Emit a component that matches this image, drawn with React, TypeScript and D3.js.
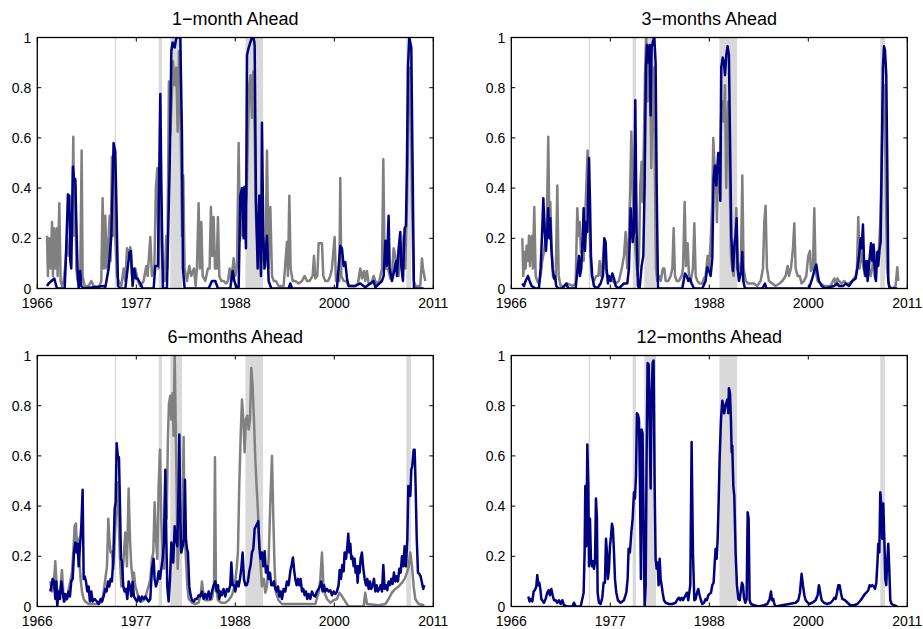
import React from "react";
import * as d3 from "d3";

type Pt = [number, number];

const xTickValues = [1966, 1977.25, 1988.5, 1999.75, 2011];
const xTickLabels = ["1966", "1977", "1988", "2000", "2011"];
const yTickValues = [0, 0.2, 0.4, 0.6, 0.8, 1];
const yTickLabels = ["0", "0.2", "0.4", "0.6", "0.8", "1"];

const shadeBands: Pt[] = [
  [1974.8, 1974.96],
  [1979.79, 1980.17],
  [1981.11, 1982.44],
  [1989.65, 1991.66],
  [2007.93, 2008.46],
];

const titles = ["1−month Ahead", "3−months Ahead", "6−months Ahead", "12−months Ahead"];

const p1Navy: Pt[] = [[1967.10,0.01],[1967.29,0.02],[1967.93,0.04],[1968.23,0],[1969.11,0],[1969.26,0.13],[1969.48,0.375],[1969.64,0.37],[1969.75,0.11],[1969.86,0.08],[1970.05,0.485],[1970.20,0.43],[1970.32,0.435],[1970.43,0.27],[1970.58,0.07],[1970.70,0],[1970.89,0.07],[1971.00,0.01],[1971.27,0],[1973.54,0.01],[1973.73,0.005],[1974.11,0.08],[1974.41,0.21],[1974.67,0.58],[1974.86,0.545],[1974.98,0.35],[1975.17,0.01],[1975.43,0],[1976.00,0],[1976.30,0.09],[1976.49,0.145],[1976.64,0.15],[1976.83,0.01],[1977.02,0.08],[1977.21,0.04],[1977.40,0.04],[1977.70,0.02],[1977.97,0],[1979.22,0],[1979.41,0.09],[1979.71,0.09],[1979.98,0.775],[1980.09,0.43],[1980.28,0],[1980.73,0],[1981.04,0.48],[1981.23,0.945],[1981.38,0.98],[1981.61,0.96],[1981.80,1],[1982.06,1],[1982.25,1],[1982.44,0.61],[1982.55,0.08],[1982.74,0],[1985.47,0],[1985.85,0.03],[1986.23,0.03],[1986.53,0],[1987.93,0],[1988.20,0.07],[1988.39,0.03],[1988.69,0],[1988.88,0],[1989.07,0.37],[1989.26,0.40],[1989.45,0.2],[1989.56,0.405],[1989.71,0.16],[1989.83,0.93],[1990.02,0.96],[1990.20,0.98],[1990.39,1],[1990.58,1],[1990.70,0.97],[1990.85,0.35],[1991.04,0.08],[1991.23,0.37],[1991.42,0.05],[1991.53,0.66],[1991.68,0.21],[1991.83,0.08],[1992.10,0.21],[1992.29,0.03],[1992.59,0],[1994.56,0],[1994.75,0.02],[1994.94,0],[2000.05,0],[2000.43,0.17],[2000.62,0.16],[2000.81,0.09],[2001.00,0.105],[2001.19,0.04],[2001.38,0.01],[2002.14,0.01],[2002.70,0.02],[2003.27,0.005],[2004.22,0.03],[2004.41,0.005],[2005.17,0.03],[2005.36,0.05],[2005.55,0.19],[2005.73,0.09],[2005.92,0.29],[2006.04,0.08],[2006.30,0.03],[2006.61,0.08],[2006.76,0.11],[2006.87,0.05],[2007.06,0.16],[2007.25,0.225],[2007.36,0.09],[2007.55,0.03],[2007.74,0.24],[2007.89,0.25],[2008.00,0.48],[2008.12,0.88],[2008.27,1],[2008.50,0.96],[2008.65,0.48],[2008.80,0],[2009.90,0]];

const p1Gray: Pt[] = [[1967.10,0.21],[1967.21,0.05],[1967.36,0.20],[1967.52,0.08],[1967.67,0.265],[1967.78,0.05],[1967.89,0.24],[1968.05,0.08],[1968.20,0.24],[1968.31,0.05],[1968.50,0.34],[1968.65,0.03],[1968.80,0.01],[1968.99,0.03],[1969.18,0.09],[1969.37,0.20],[1969.56,0.13],[1969.75,0.15],[1969.94,0.21],[1970.09,0.605],[1970.20,0.21],[1970.32,0.41],[1970.43,0.08],[1970.58,0.03],[1970.89,0.08],[1971.04,0.55],[1971.15,0.05],[1971.38,0.01],[1971.83,0.01],[1972.14,0.03],[1972.40,0.01],[1972.97,0],[1973.27,0.03],[1973.42,0.36],[1973.58,0.08],[1973.73,0.29],[1973.88,0.08],[1974.03,0.15],[1974.22,0.29],[1974.33,0.11],[1974.48,0.525],[1974.60,0.21],[1974.75,0.55],[1974.86,0.21],[1975.05,0.05],[1975.24,0.03],[1975.55,0.01],[1975.81,0.08],[1976.00,0.03],[1976.19,0.16],[1976.38,0.13],[1976.57,0.165],[1976.76,0.05],[1976.95,0.05],[1977.14,0.08],[1977.44,0.03],[1977.70,0.01],[1978.08,0.03],[1978.39,0.09],[1978.54,0.05],[1978.84,0.205],[1979.03,0.05],[1979.30,0.08],[1979.48,0.405],[1979.64,0.48],[1979.79,0.08],[1979.94,0.37],[1980.05,0.29],[1980.24,0.08],[1980.47,0.03],[1980.66,0.21],[1980.77,0.08],[1980.96,0.825],[1981.11,0.61],[1981.27,0.745],[1981.42,0.905],[1981.61,0.81],[1981.80,0.88],[1981.95,0.625],[1982.10,0.945],[1982.25,0.745],[1982.44,0.21],[1982.59,0.45],[1982.74,0.08],[1983.01,0.03],[1983.27,0.09],[1983.50,0.05],[1983.80,0.08],[1983.99,0.01],[1984.14,0.08],[1984.33,0.34],[1984.48,0.08],[1984.64,0.265],[1984.79,0.05],[1985.09,0.03],[1985.39,0.08],[1985.58,0.08],[1985.73,0.325],[1985.89,0.13],[1986.04,0.285],[1986.19,0.08],[1986.38,0.08],[1986.53,0.285],[1986.68,0.05],[1986.91,0.03],[1987.17,0.03],[1987.44,0.02],[1987.67,0.03],[1987.86,0.08],[1988.05,0.03],[1988.31,0.12],[1988.50,0.05],[1988.69,0.09],[1988.88,0.58],[1989.03,0.19],[1989.18,0.385],[1989.33,0.21],[1989.45,0.40],[1989.64,0.32],[1989.79,0.37],[1989.94,0.61],[1990.09,0.81],[1990.24,0.85],[1990.39,0.68],[1990.55,0.865],[1990.70,0.61],[1990.85,0.28],[1991.04,0.16],[1991.23,0.37],[1991.38,0.08],[1991.61,0.21],[1991.76,0.08],[1991.91,0.09],[1992.10,0.55],[1992.29,0.08],[1992.48,0.325],[1992.67,0.05],[1992.86,0.03],[1993.12,0.03],[1993.42,0.01],[1993.99,0.01],[1994.37,0.185],[1994.48,0.05],[1994.64,0.37],[1994.79,0.08],[1995.02,0.03],[1995.32,0.03],[1995.70,0.02],[1996.08,0.03],[1996.38,0.05],[1996.64,0.03],[1996.95,0.03],[1997.29,0.05],[1997.44,0.13],[1997.59,0.04],[1997.82,0.05],[1997.97,0.18],[1998.16,0.18],[1998.35,0.18],[1998.50,0.05],[1998.73,0.03],[1999.03,0.03],[1999.30,0.05],[1999.48,0.08],[1999.79,0.205],[1999.94,0.03],[2000.17,0.03],[2000.32,0.03],[2000.43,0.44],[2000.55,0.05],[2000.81,0.03],[2001.08,0.03],[2001.38,0.01],[2001.76,0.01],[2002.14,0.01],[2002.44,0.02],[2002.70,0.08],[2002.89,0.04],[2003.12,0.07],[2003.27,0.03],[2003.46,0.07],[2003.65,0.02],[2003.95,0.02],[2004.22,0.05],[2004.41,0.03],[2004.60,0.02],[2004.86,0.03],[2005.17,0.08],[2005.32,0.515],[2005.47,0.08],[2005.66,0.08],[2005.85,0.08],[2006.11,0.04],[2006.30,0.05],[2006.49,0.16],[2006.68,0.13],[2006.87,0.08],[2007.06,0.05],[2007.25,0.16],[2007.44,0.08],[2007.63,0.21],[2007.82,0.08],[2008.01,0.35],[2008.20,0.74],[2008.39,0.88],[2008.58,0.35],[2008.77,0.03],[2008.95,0.01],[2009.26,0.01],[2009.52,0.01],[2009.71,0.12],[2009.83,0.08],[2009.98,0.05],[2010.09,0.03]];

const p2Navy: Pt[] = [[1967.25,0.02],[1967.44,0.01],[1967.63,0.03],[1967.89,0.05],[1968.08,0.03],[1968.31,0.01],[1968.77,0],[1969.14,0],[1969.33,0.08],[1969.52,0.24],[1969.64,0.36],[1969.79,0.23],[1969.94,0.15],[1970.09,0.24],[1970.20,0.32],[1970.32,0.2],[1970.43,0.28],[1970.55,0.16],[1970.70,0.08],[1970.85,0.04],[1970.96,0.05],[1971.11,0.01],[1971.34,0],[1971.80,0],[1972.25,0.02],[1972.48,0],[1973.31,0],[1973.54,0.08],[1973.69,0.13],[1973.80,0.05],[1973.95,0.08],[1974.11,0.2],[1974.22,0.32],[1974.37,0.15],[1974.52,0.265],[1974.64,0.225],[1974.75,0.405],[1974.83,0.52],[1974.94,0.35],[1975.05,0.13],[1975.20,0.05],[1975.39,0.01],[1975.77,0],[1976.15,0.02],[1976.42,0.05],[1976.57,0.2],[1976.72,0.185],[1976.83,0.08],[1976.98,0.02],[1977.10,0.05],[1977.29,0.03],[1977.48,0.06],[1977.67,0.04],[1977.86,0.01],[1978.23,0],[1978.80,0.02],[1979.18,0.02],[1979.37,0.08],[1979.56,0.32],[1979.67,0.265],[1979.79,0.185],[1979.94,0.225],[1980.09,0.75],[1980.24,0.225],[1980.39,0.01],[1980.58,0],[1980.81,0.09],[1981.00,0.13],[1981.15,0.41],[1981.30,0.88],[1981.42,0.97],[1981.57,0.90],[1981.72,0.97],[1981.83,0.69],[1981.95,0.96],[1982.10,0.985],[1982.25,1],[1982.40,0.90],[1982.52,0.41],[1982.67,0],[1982.97,0],[1985.43,0],[1985.73,0.06],[1985.92,0.05],[1986.11,0.03],[1986.30,0.04],[1986.49,0.02],[1986.76,0],[1987.70,0],[1988.08,0.03],[1988.27,0.085],[1988.46,0.07],[1988.65,0.05],[1988.84,0.12],[1988.99,0.44],[1989.14,0.49],[1989.30,0.41],[1989.41,0.48],[1989.52,0.54],[1989.67,0.48],[1989.75,0.35],[1989.86,0.88],[1990.02,0.92],[1990.17,0.90],[1990.28,0.85],[1990.43,0.93],[1990.58,0.965],[1990.73,0.93],[1990.85,0.61],[1991.00,0.21],[1991.19,0.07],[1991.38,0.185],[1991.49,0.21],[1991.61,0.28],[1991.72,0.08],[1991.87,0.03],[1992.14,0.07],[1992.25,0.145],[1992.36,0.03],[1992.55,0],[1994.52,0],[1994.83,0.02],[1994.98,0],[1999.83,0],[2000.20,0.04],[2000.51,0.08],[2000.66,0.095],[2000.81,0.06],[2000.96,0.03],[2001.27,0.01],[2001.72,0],[2002.67,0.01],[2003.05,0.02],[2003.23,0.01],[2003.73,0.01],[2003.99,0.02],[2004.37,0.01],[2004.56,0.02],[2004.75,0.03],[2005.13,0.04],[2005.32,0.08],[2005.51,0.13],[2005.70,0.2],[2005.81,0.16],[2005.96,0.255],[2006.11,0.08],[2006.27,0.05],[2006.38,0.11],[2006.49,0.03],[2006.64,0.09],[2006.87,0.18],[2007.02,0.11],[2007.17,0.175],[2007.32,0.05],[2007.44,0.03],[2007.59,0.145],[2007.70,0.09],[2007.86,0.16],[2007.97,0.185],[2008.08,0.48],[2008.23,0.88],[2008.35,0.965],[2008.46,0.95],[2008.61,0.85],[2008.73,0.48],[2008.84,0.03],[2008.99,0],[2009.86,0]];

const p2Gray: Pt[] = [[1967.25,0.2],[1967.36,0.05],[1967.52,0.145],[1967.63,0.08],[1967.74,0.17],[1967.89,0.11],[1968.01,0.21],[1968.12,0.09],[1968.23,0.2],[1968.35,0.21],[1968.46,0.08],[1968.61,0.325],[1968.77,0.05],[1968.95,0.03],[1969.14,0.02],[1969.33,0.05],[1969.52,0.11],[1969.71,0.145],[1969.90,0.21],[1970.05,0.29],[1970.20,0.605],[1970.32,0.265],[1970.43,0.345],[1970.58,0.17],[1970.73,0.05],[1971.04,0.03],[1971.23,0.41],[1971.38,0.05],[1971.61,0.01],[1971.98,0.01],[1972.36,0.02],[1972.93,0.01],[1973.31,0.02],[1973.50,0.32],[1973.65,0.21],[1973.77,0.265],[1973.92,0.145],[1974.07,0.17],[1974.22,0.11],[1974.37,0.265],[1974.52,0.405],[1974.67,0.55],[1974.83,0.345],[1974.98,0.145],[1975.13,0.05],[1975.39,0.03],[1975.66,0.05],[1975.89,0.05],[1976.04,0.11],[1976.19,0.05],[1976.34,0.08],[1976.57,0.185],[1976.72,0.08],[1976.91,0.05],[1977.10,0.05],[1977.48,0.03],[1977.86,0.02],[1978.23,0.03],[1978.61,0.09],[1978.80,0.13],[1978.99,0.225],[1979.18,0.08],[1979.37,0.21],[1979.52,0.41],[1979.64,0.625],[1979.75,0.48],[1979.90,0.21],[1980.05,0.185],[1980.20,0.11],[1980.36,0.05],[1980.51,0.13],[1980.66,0.41],[1980.81,0.505],[1980.92,0.345],[1981.08,0.61],[1981.19,0.85],[1981.34,1.0],[1981.49,0.745],[1981.64,0.93],[1981.80,0.81],[1981.91,0.48],[1982.02,0.745],[1982.17,0.88],[1982.29,0.545],[1982.44,0.08],[1982.59,0.03],[1982.78,0.05],[1982.97,0.03],[1983.23,0.08],[1983.39,0.08],[1983.54,0.03],[1983.84,0.03],[1984.11,0.05],[1984.30,0.08],[1984.45,0.24],[1984.60,0.05],[1984.79,0.03],[1985.05,0.03],[1985.36,0.05],[1985.51,0.08],[1985.70,0.345],[1985.85,0.09],[1986.04,0.18],[1986.19,0.05],[1986.38,0.03],[1986.64,0.08],[1986.80,0.26],[1986.95,0.05],[1987.14,0.03],[1987.40,0.02],[1987.70,0.02],[1987.89,0.04],[1988.08,0.05],[1988.31,0.13],[1988.46,0.08],[1988.65,0.185],[1988.84,0.345],[1988.95,0.6],[1989.11,0.48],[1989.26,0.44],[1989.37,0.265],[1989.52,0.53],[1989.67,0.385],[1989.83,0.68],[1989.98,0.745],[1990.13,0.665],[1990.28,0.81],[1990.43,0.40],[1990.55,0.64],[1990.66,0.745],[1990.81,0.45],[1990.96,0.13],[1991.11,0.08],[1991.27,0.05],[1991.42,0.185],[1991.57,0.32],[1991.72,0.08],[1991.87,0.05],[1992.10,0.11],[1992.25,0.45],[1992.40,0.08],[1992.63,0.03],[1992.93,0.02],[1993.23,0.02],[1993.58,0.02],[1993.95,0.01],[1994.33,0.03],[1994.60,0.08],[1994.75,0.265],[1994.90,0.33],[1995.05,0.08],[1995.28,0.03],[1995.66,0.02],[1996.04,0.01],[1996.49,0.02],[1996.80,0.03],[1997.17,0.05],[1997.40,0.09],[1997.55,0.05],[1997.78,0.08],[1998.01,0.16],[1998.16,0.26],[1998.31,0.08],[1998.54,0.05],[1998.77,0.05],[1998.99,0.02],[1999.26,0.03],[1999.52,0.05],[1999.75,0.13],[1999.94,0.15],[2000.05,0.07],[2000.28,0.08],[2000.43,0.32],[2000.58,0.07],[2000.81,0.03],[2001.15,0.02],[2001.53,0.01],[2001.91,0.01],[2002.29,0.01],[2002.55,0.03],[2002.70,0.04],[2002.86,0.02],[2003.05,0.04],[2003.23,0.03],[2003.54,0.02],[2003.80,0.03],[2004.07,0.02],[2004.37,0.02],[2004.75,0.03],[2005.13,0.05],[2005.28,0.08],[2005.43,0.285],[2005.58,0.08],[2005.73,0.16],[2005.89,0.11],[2006.04,0.08],[2006.19,0.05],[2006.34,0.05],[2006.49,0.11],[2006.64,0.09],[2006.83,0.05],[2007.02,0.08],[2007.21,0.16],[2007.40,0.08],[2007.59,0.13],[2007.78,0.16],[2007.93,0.265],[2008.08,0.48],[2008.23,0.745],[2008.39,0.81],[2008.54,0.48],[2008.69,0.08],[2008.92,0.01],[2009.30,0],[2009.67,0.01],[2009.86,0.085],[2009.98,0.03]];

const p3Navy: Pt[] = [[1967.48,0.06],[1967.59,0.08],[1967.74,0.11],[1967.89,0.10],[1968.05,0.03],[1968.16,0.10],[1968.27,0.0],[1968.42,0.06],[1968.58,0.03],[1968.73,0.10],[1968.88,0.06],[1969.03,0.02],[1969.18,0.05],[1969.37,0.03],[1969.56,0.06],[1969.71,0.04],[1969.86,0.10],[1970.02,0.11],[1970.17,0.215],[1970.32,0.255],[1970.47,0.215],[1970.58,0.25],[1970.70,0.16],[1970.85,0.24],[1971.00,0.32],[1971.15,0.465],[1971.27,0.11],[1971.38,0.12],[1971.53,0.10],[1971.68,0.06],[1971.83,0.08],[1971.98,0.02],[1972.14,0.06],[1972.29,0.02],[1972.52,0.03],[1972.78,0.02],[1972.97,0.01],[1973.20,0.03],[1973.35,0.02],[1973.54,0.04],[1973.73,0.07],[1973.88,0.06],[1974.03,0.10],[1974.18,0.08],[1974.33,0.11],[1974.48,0.10],[1974.64,0.19],[1974.79,0.39],[1974.90,0.415],[1975.02,0.65],[1975.17,0.59],[1975.28,0.595],[1975.39,0.415],[1975.51,0.19],[1975.62,0.18],[1975.77,0.08],[1975.92,0.06],[1976.08,0.07],[1976.23,0.03],[1976.38,0.10],[1976.53,0.08],[1976.68,0.04],[1976.83,0.10],[1976.98,0.04],[1977.14,0.03],[1977.33,0.02],[1977.52,0.04],[1977.70,0.02],[1977.89,0.04],[1978.08,0.03],[1978.27,0.04],[1978.46,0.03],[1978.65,0.02],[1978.84,0.03],[1979.03,0.15],[1979.22,0.19],[1979.33,0.11],[1979.48,0.08],[1979.64,0.10],[1979.79,0.14],[1979.94,0.11],[1980.09,0.15],[1980.24,0.19],[1980.39,0.255],[1980.55,0.545],[1980.66,0.27],[1980.77,0.08],[1980.92,0.02],[1981.08,0.11],[1981.23,0.255],[1981.34,0.19],[1981.45,0.175],[1981.61,0.32],[1981.76,0.27],[1981.91,0.24],[1982.06,0.48],[1982.14,0.685],[1982.25,0.35],[1982.36,0.215],[1982.52,0.24],[1982.67,0.27],[1982.78,0.505],[1982.89,0.27],[1983.01,0.23],[1983.12,0.215],[1983.27,0.08],[1983.42,0.045],[1983.58,0.025],[1983.77,0.02],[1983.95,0.03],[1984.14,0.03],[1984.33,0.045],[1984.52,0.04],[1984.71,0.06],[1984.90,0.03],[1985.09,0.05],[1985.28,0.03],[1985.47,0.06],[1985.66,0.03],[1985.85,0.06],[1986.04,0.085],[1986.23,0.10],[1986.38,0.06],[1986.53,0.085],[1986.68,0.03],[1986.83,0.06],[1986.98,0.045],[1987.17,0.07],[1987.36,0.04],[1987.55,0.07],[1987.74,0.06],[1987.93,0.085],[1988.05,0.175],[1988.20,0.085],[1988.35,0.085],[1988.50,0.06],[1988.69,0.10],[1988.88,0.08],[1989.03,0.11],[1989.18,0.15],[1989.33,0.215],[1989.48,0.11],[1989.64,0.085],[1989.79,0.085],[1989.94,0.10],[1990.09,0.14],[1990.24,0.165],[1990.39,0.215],[1990.55,0.23],[1990.70,0.31],[1990.85,0.32],[1991.00,0.33],[1991.11,0.34],[1991.23,0.24],[1991.38,0.19],[1991.53,0.215],[1991.68,0.16],[1991.83,0.22],[1991.98,0.135],[1992.14,0.16],[1992.29,0.11],[1992.44,0.135],[1992.59,0.085],[1992.74,0.085],[1992.89,0.10],[1993.05,0.07],[1993.20,0.06],[1993.35,0.08],[1993.50,0.04],[1993.65,0.06],[1993.80,0.03],[1993.99,0.07],[1994.18,0.06],[1994.37,0.10],[1994.56,0.085],[1994.75,0.14],[1994.90,0.165],[1995.05,0.195],[1995.20,0.14],[1995.32,0.11],[1995.47,0.085],[1995.62,0.11],[1995.77,0.085],[1995.92,0.11],[1996.08,0.06],[1996.23,0.07],[1996.38,0.045],[1996.53,0.06],[1996.68,0.03],[1996.83,0.05],[1997.02,0.03],[1997.21,0.06],[1997.40,0.045],[1997.59,0.04],[1997.78,0.06],[1997.97,0.07],[1998.16,0.085],[1998.27,0.10],[1998.42,0.06],[1998.58,0.085],[1998.73,0.06],[1998.92,0.07],[1999.11,0.06],[1999.30,0.065],[1999.48,0.045],[1999.67,0.06],[1999.86,0.05],[2000.05,0.06],[2000.24,0.085],[2000.36,0.145],[2000.51,0.11],[2000.66,0.165],[2000.81,0.14],[2000.92,0.215],[2001.08,0.19],[2001.23,0.24],[2001.34,0.29],[2001.45,0.215],[2001.57,0.25],[2001.68,0.19],[2001.80,0.20],[2001.95,0.16],[2002.06,0.19],[2002.17,0.135],[2002.29,0.16],[2002.40,0.095],[2002.52,0.16],[2002.63,0.135],[2002.74,0.19],[2002.89,0.215],[2003.05,0.15],[2003.20,0.11],[2003.35,0.085],[2003.50,0.11],[2003.65,0.07],[2003.80,0.10],[2003.95,0.07],[2004.11,0.085],[2004.26,0.11],[2004.41,0.06],[2004.56,0.085],[2004.71,0.06],[2004.86,0.07],[2005.02,0.085],[2005.17,0.06],[2005.32,0.165],[2005.47,0.07],[2005.62,0.085],[2005.77,0.065],[2005.92,0.10],[2006.08,0.085],[2006.23,0.11],[2006.38,0.09],[2006.53,0.135],[2006.68,0.10],[2006.83,0.12],[2006.98,0.10],[2007.14,0.15],[2007.29,0.135],[2007.44,0.20],[2007.59,0.16],[2007.74,0.24],[2007.89,0.16],[2008.05,0.27],[2008.16,0.48],[2008.27,0.475],[2008.39,0.44],[2008.50,0.545],[2008.61,0.56],[2008.77,0.625],[2008.88,0.625],[2008.99,0.48],[2009.11,0.28],[2009.26,0.135],[2009.41,0.13],[2009.56,0.12],[2009.71,0.095],[2009.86,0.07],[2009.98,0.085]];

const p3Gray: Pt[] = [[1967.48,0.10],[1967.67,0.06],[1967.86,0.08],[1968.05,0.18],[1968.20,0.08],[1968.35,0.03],[1968.50,0.06],[1968.65,0.08],[1968.80,0.145],[1968.95,0.06],[1969.11,0.02],[1969.37,0.03],[1969.56,0.07],[1969.75,0.10],[1969.94,0.135],[1970.09,0.215],[1970.24,0.32],[1970.39,0.33],[1970.51,0.215],[1970.62,0.27],[1970.77,0.19],[1970.92,0.11],[1971.08,0.06],[1971.27,0.03],[1971.45,0.02],[1971.83,0.01],[1972.21,0.01],[1972.97,0.01],[1973.35,0.02],[1973.54,0.06],[1973.73,0.11],[1973.92,0.16],[1974.07,0.35],[1974.18,0.27],[1974.33,0.215],[1974.48,0.22],[1974.64,0.15],[1974.79,0.255],[1974.94,0.375],[1975.09,0.495],[1975.24,0.35],[1975.39,0.19],[1975.55,0.08],[1975.70,0.135],[1975.85,0.215],[1976.00,0.295],[1976.19,0.16],[1976.38,0.47],[1976.53,0.27],[1976.68,0.16],[1976.83,0.11],[1976.98,0.135],[1977.14,0.08],[1977.33,0.06],[1977.52,0.03],[1977.89,0.02],[1978.27,0.03],[1978.46,0.06],[1978.65,0.08],[1978.84,0.11],[1979.03,0.19],[1979.18,0.215],[1979.33,0.415],[1979.48,0.27],[1979.64,0.19],[1979.79,0.48],[1979.94,0.625],[1980.09,0.35],[1980.24,0.215],[1980.39,0.15],[1980.55,0.505],[1980.70,0.35],[1980.85,0.68],[1980.96,0.81],[1981.11,0.84],[1981.23,0.745],[1981.38,0.85],[1981.49,0.68],[1981.61,1.0],[1981.72,0.745],[1981.83,0.48],[1981.95,0.15],[1982.06,0.24],[1982.21,0.415],[1982.36,0.215],[1982.48,0.28],[1982.63,0.675],[1982.74,0.295],[1982.89,0.19],[1983.05,0.08],[1983.20,0.03],[1983.58,0.015],[1983.95,0.01],[1984.33,0.015],[1984.60,0.055],[1984.71,0.10],[1984.86,0.055],[1985.09,0.025],[1985.47,0.025],[1985.85,0.03],[1986.08,0.08],[1986.19,0.595],[1986.30,0.08],[1986.53,0.025],[1986.91,0.015],[1987.36,0.015],[1987.74,0.025],[1988.12,0.045],[1988.42,0.08],[1988.65,0.15],[1988.80,0.215],[1988.95,0.48],[1989.11,0.68],[1989.26,0.825],[1989.41,0.745],[1989.56,0.615],[1989.71,0.745],[1989.86,0.76],[1990.02,0.705],[1990.17,0.745],[1990.32,0.95],[1990.47,0.88],[1990.62,0.745],[1990.77,0.59],[1990.92,0.48],[1991.08,0.375],[1991.23,0.24],[1991.38,0.16],[1991.53,0.08],[1991.76,0.11],[1991.91,0.055],[1992.10,0.08],[1992.29,0.19],[1992.48,0.415],[1992.67,0.6],[1992.82,0.35],[1992.97,0.15],[1993.12,0.055],[1993.42,0.025],[1993.80,0.01],[1996.08,0.01],[1997.59,0.01],[1997.97,0.055],[1998.16,0.11],[1998.35,0.215],[1998.50,0.095],[1998.65,0.055],[1998.92,0.03],[1999.30,0.015],[1999.67,0.025],[2000.05,0.03],[2000.32,0.055],[2000.55,0.045],[2000.81,0.03],[2001.08,0.015],[2001.38,0],[2003.08,0],[2003.27,0.055],[2003.46,0.01],[2004.79,0.005],[2005.55,0.01],[2005.92,0.03],[2006.30,0.055],[2006.68,0.07],[2007.06,0.08],[2007.44,0.095],[2007.74,0.11],[2008.01,0.135],[2008.20,0.16],[2008.39,0.215],[2008.58,0.16],[2008.77,0.08],[2008.95,0.03],[2009.33,0.01],[2009.98,0.005]];

const p4Navy: Pt[] = [[1967.93,0.04],[1968.08,0.02],[1968.23,0.03],[1968.39,0.02],[1968.54,0.06],[1968.69,0.065],[1968.84,0.08],[1968.95,0.125],[1969.07,0.085],[1969.18,0.095],[1969.30,0.07],[1969.41,0.03],[1969.52,0.025],[1969.71,0.015],[1969.90,0.03],[1970.09,0.055],[1970.24,0.065],[1970.39,0.045],[1970.55,0.07],[1970.70,0.045],[1970.85,0.025],[1971.04,0.025],[1971.23,0.015],[1971.42,0.025],[1971.61,0.01],[1971.80,0.025],[1971.98,0.005],[1972.36,0],[1972.93,0],[1973.12,0.015],[1973.31,0],[1973.88,0],[1974.07,0.03],[1974.22,0.055],[1974.33,0.215],[1974.41,0.48],[1974.52,0.24],[1974.64,0.645],[1974.75,0.48],[1974.83,0.16],[1974.94,0.35],[1975.05,0.19],[1975.17,0.16],[1975.28,0.18],[1975.39,0.15],[1975.51,0.175],[1975.62,0.43],[1975.73,0.35],[1975.81,0.055],[1975.96,0.015],[1976.15,0.01],[1976.34,0.035],[1976.49,0.095],[1976.64,0.095],[1976.76,0.27],[1976.87,0.215],[1976.98,0.11],[1977.10,0.15],[1977.21,0.24],[1977.33,0.28],[1977.44,0.33],[1977.55,0.31],[1977.67,0.215],[1977.78,0.11],[1977.93,0.055],[1978.12,0.025],[1978.42,0.015],[1978.80,0.025],[1979.07,0.055],[1979.22,0.11],[1979.33,0.23],[1979.48,0.215],[1979.64,0.295],[1979.79,0.35],[1979.94,0.455],[1980.05,0.43],[1980.17,0.52],[1980.28,0.77],[1980.39,0.765],[1980.51,0.745],[1980.62,0.48],[1980.73,0.11],[1980.81,0.705],[1980.92,0.69],[1981.04,0.31],[1981.15,0],[1981.27,0.085],[1981.38,0.615],[1981.49,0.97],[1981.61,0.965],[1981.72,0.745],[1981.83,0.47],[1981.95,0.85],[1982.06,0.97],[1982.17,0.98],[1982.29,0.48],[1982.40,0.19],[1982.52,0.15],[1982.63,0.175],[1982.74,0.085],[1982.86,0.19],[1982.97,0.11],[1983.08,0.085],[1983.20,0.055],[1983.35,0.025],[1983.54,0.015],[1983.92,0.01],[1984.30,0.01],[1984.67,0.015],[1984.90,0.03],[1985.05,0.035],[1985.20,0.025],[1985.36,0.035],[1985.51,0.025],[1985.66,0.035],[1985.81,0.045],[1985.96,0.055],[1986.11,0.025],[1986.34,0.085],[1986.49,0.655],[1986.64,0.215],[1986.80,0.025],[1986.95,0.03],[1987.10,0.055],[1987.25,0.07],[1987.40,0.045],[1987.55,0.025],[1987.70,0.01],[1987.89,0.015],[1988.08,0.03],[1988.23,0.025],[1988.39,0.045],[1988.54,0.05],[1988.69,0.055],[1988.84,0.085],[1988.99,0.095],[1989.14,0.19],[1989.22,0.23],[1989.33,0.19],[1989.45,0.27],[1989.56,0.415],[1989.67,0.585],[1989.83,0.745],[1989.98,0.82],[1990.09,0.80],[1990.20,0.77],[1990.32,0.80],[1990.43,0.81],[1990.55,0.825],[1990.66,0.77],[1990.73,0.87],[1990.85,0.85],[1990.96,0.745],[1991.04,0.615],[1991.11,0.64],[1991.23,0.48],[1991.34,0.44],[1991.49,0.215],[1991.64,0.085],[1991.80,0.03],[1991.95,0.025],[1992.06,0.055],[1992.21,0.095],[1992.33,0.085],[1992.44,0.035],[1992.59,0.015],[1992.74,0.03],[1992.86,0.375],[1992.97,0.35],[1993.08,0.025],[1993.23,0.01],[1993.58,0.005],[1994.14,0],[1994.71,0.005],[1995.09,0.01],[1995.36,0.03],[1995.51,0.06],[1995.62,0.025],[1995.77,0.03],[1995.89,0.01],[1996.04,0],[1998.31,0.015],[1998.61,0.025],[1998.80,0.055],[1998.99,0.13],[1999.14,0.085],[1999.30,0.045],[1999.45,0.025],[1999.83,0.01],[2000.20,0.015],[2000.58,0.025],[2000.81,0.045],[2000.96,0.085],[2001.11,0.055],[2001.27,0.025],[2001.53,0.015],[2001.91,0.01],[2002.29,0.015],[2002.55,0.025],[2002.70,0.035],[2002.86,0.03],[2003.01,0.055],[2003.16,0.085],[2003.31,0.085],[2003.46,0.055],[2003.61,0.03],[2003.92,0.025],[2004.22,0.015],[2004.52,0.005],[2004.94,0.005],[2005.32,0.01],[2005.70,0.025],[2006.08,0.045],[2006.34,0.055],[2006.57,0.065],[2006.72,0.085],[2006.87,0.08],[2007.02,0.085],[2007.17,0.08],[2007.33,0.07],[2007.48,0.095],[2007.63,0.19],[2007.70,0.25],[2007.82,0.215],[2007.93,0.455],[2008.05,0.40],[2008.16,0.27],[2008.27,0.41],[2008.39,0.27],[2008.50,0.11],[2008.61,0.085],[2008.73,0.19],[2008.84,0.25],[2008.95,0.15],[2009.07,0.025],[2009.22,0.01],[2009.48,0.005],[2009.86,0]];

const graySeries: (Pt[] | null)[] = [p1Gray, p2Gray, p3Gray, null];
const navySeries: Pt[][] = [p1Navy, p2Navy, p3Navy, p4Navy];

const W = 396;
const H = 251;
const lefts = [37.3, 511.3];
const tops = [37.5, 355.5];
const FONT = "'Liberation Sans', Arial, Helvetica, sans-serif";

function Panel({ idx }: { idx: number }) {
  const left = lefts[idx % 2];
  const top = tops[Math.floor(idx / 2)];
  const x = d3.scaleLinear().domain([1966, 2011]).range([left, left + W]);
  const y = d3.scaleLinear().domain([0, 1]).range([top + H, top]);
  const line = d3
    .line<Pt>()
    .x((d) => x(d[0]))
    .y((d) => y(d[1]))
    .curve(d3.curveLinear);
  const gray = graySeries[idx];
  const navy = navySeries[idx];
  const clipId = `clip-${idx}`;
  return (
    <g>
      <defs>
        <clipPath id={clipId}>
          <rect x={left} y={top} width={W} height={H} />
        </clipPath>
      </defs>
      <g clipPath={`url(#${clipId})`}>
        {shadeBands.map((b, i) => (
          <rect
            key={i}
            x={x(b[0])}
            y={top}
            width={Math.max(x(b[1]) - x(b[0]), 1)}
            height={H}
            fill="#d9d9d9"
          />
        ))}
        {gray && (
          <path d={line(gray) || ""} fill="none" stroke="#808080" strokeWidth={2.5} strokeLinejoin="round" />
        )}
        <path d={line(navy) || ""} fill="none" stroke="#000080" strokeWidth={2.5} strokeLinejoin="round" />
      </g>
      <rect x={left} y={top} width={W} height={H} fill="none" stroke="#000" strokeWidth={1.3} />
      {xTickValues.map((v, i) => (
        <g key={`xt${i}`}>
          <line x1={x(v)} x2={x(v)} y1={top + H} y2={top + H - 4} stroke="#000" strokeWidth={1} />
          <line x1={x(v)} x2={x(v)} y1={top} y2={top + 4} stroke="#000" strokeWidth={1} />
          <text x={x(v)} y={top + H + 19.5} textAnchor="middle" fontFamily={FONT} fontSize={14} fill="#000">
            {xTickLabels[i]}
          </text>
        </g>
      ))}
      {yTickValues.map((v, i) => (
        <g key={`yt${i}`}>
          <line x1={left} x2={left + 4} y1={y(v)} y2={y(v)} stroke="#000" strokeWidth={1} />
          <line x1={left + W} x2={left + W - 4} y1={y(v)} y2={y(v)} stroke="#000" strokeWidth={1} />
          <text x={left - 6} y={y(v) + 5} textAnchor="end" fontFamily={FONT} fontSize={14} fill="#000">
            {yTickLabels[i]}
          </text>
        </g>
      ))}
      <text x={left + W / 2} y={top - 12.5} textAnchor="middle" fontFamily={FONT} fontSize={18} fill="#000">
        {titles[idx]}
      </text>
    </g>
  );
}

export default function App() {
  return (
    <svg
      width={923}
      height={629}
      style={{ position: "absolute", left: 0, top: 0, background: "#fff" }}
      xmlns="http://www.w3.org/2000/svg"
    >
      <rect x={0} y={0} width={923} height={629} fill="#fff" />
      {[0, 1, 2, 3].map((i) => (
        <Panel key={i} idx={i} />
      ))}
    </svg>
  );
}
